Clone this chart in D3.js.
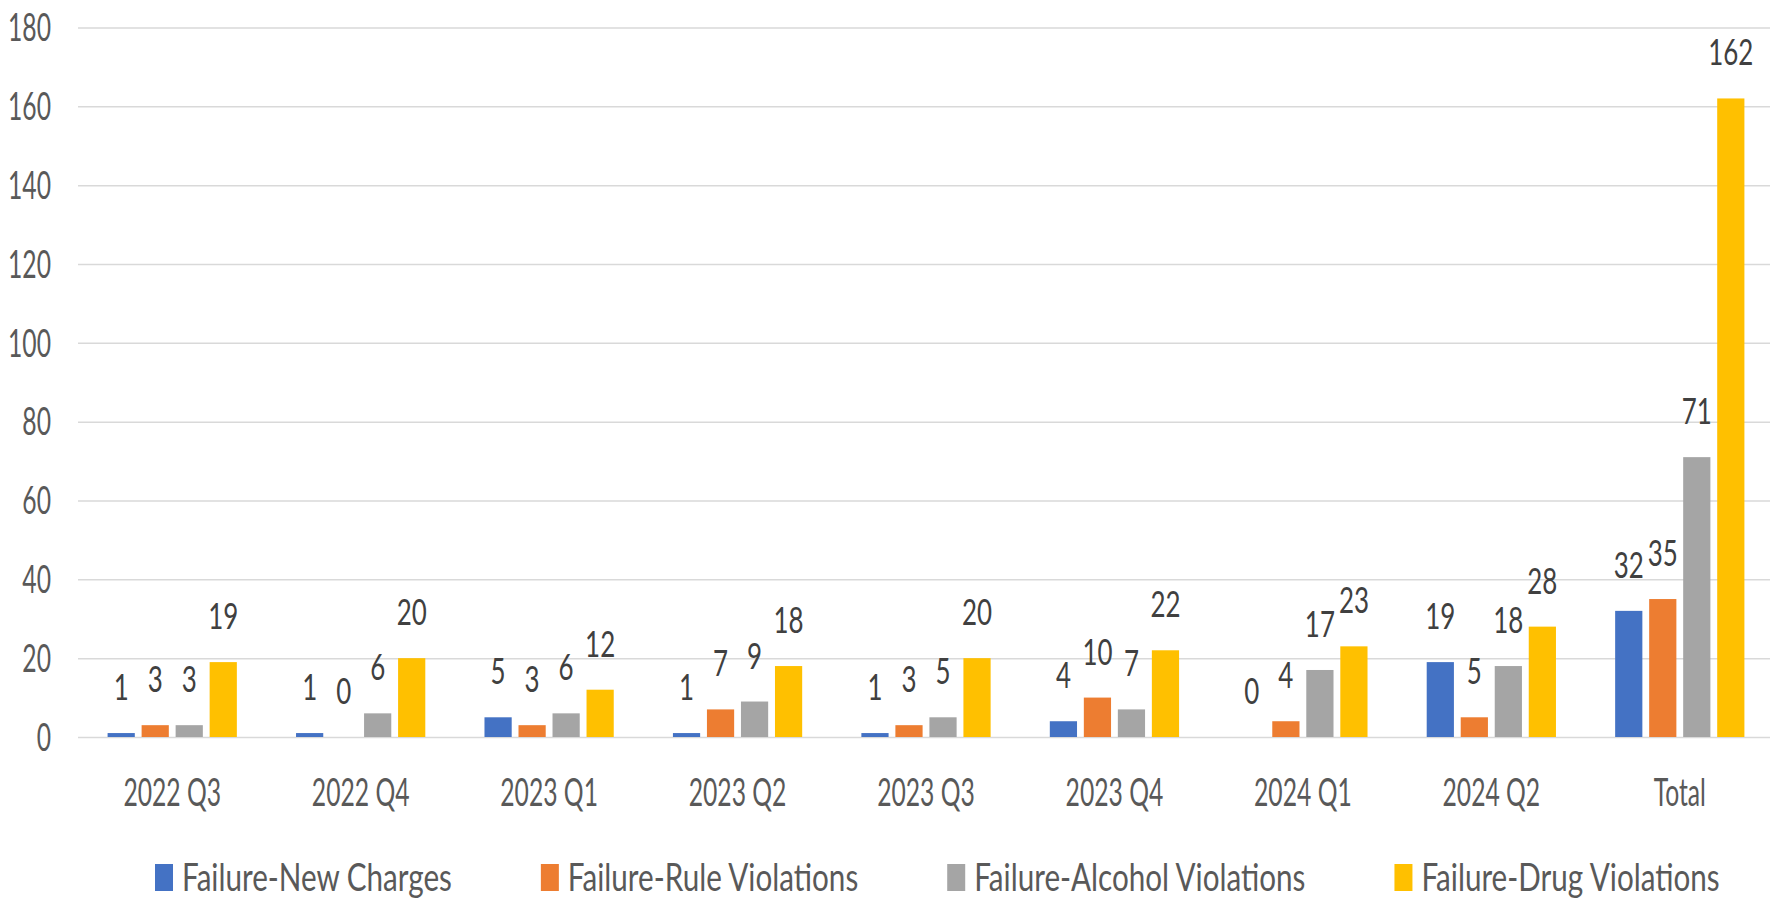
<!DOCTYPE html>
<html>
<head>
<meta charset="utf-8">
<script src="https://cdn.jsdelivr.net/npm/d3@7"></script>
<style>
  body { margin: 0; background: #fff; }
  svg { display: block; }
  text { font-family: Lato, "Open Sans", sans-serif; }
</style>
</head>
<body>
<div id="chart"></div>
<script>
var categories = ['2022 Q3', '2022 Q4', '2023 Q1', '2023 Q2', '2023 Q3', '2023 Q4', '2024 Q1', '2024 Q2', 'Total'];
var seriesNames = ['Failure-New Charges', 'Failure-Rule Violations', 'Failure-Alcohol Violations', 'Failure-Drug Violations'];
var newCharges = [1, 1, 5, 1, 1, 4, 0, 19, 32];
var ruleViolations = [3, 0, 3, 7, 3, 10, 4, 5, 35];
var alcoholViolations = [3, 6, 6, 9, 5, 7, 17, 18, 71];
var drugViolations = [19, 20, 12, 18, 20, 22, 23, 28, 162];
var yTicks = [0, 20, 40, 60, 80, 100, 120, 140, 160, 180];
var colors = ['#4472C4', '#ED7D31', '#A5A5A5', '#FFC000'];

var W = 1770, H = 901;
var plotLeft = 78, plotRight = 1774, plotTop = 27.5, plotBottom = 737;
var sx = 0.65;     // the picture is squeezed sideways
var sxLab = 0.72;  // value labels
var sxLeg = 0.78;  // legend words come out narrower in Lato

var seriesValues = [newCharges, ruleViolations, alcoholViolations, drugViolations];

var svg = d3.select('#chart').append('svg')
  .attr('width', W)
  .attr('height', H);

var x0 = d3.scaleBand().domain(categories).range([plotLeft, plotRight]);
var x1 = d3.scaleBand().domain(seriesNames).range([0, x0.bandwidth()])
  .paddingInner(0.2).paddingOuter(0.87);
var y = d3.scaleLinear().domain([0, 180]).range([plotBottom, plotTop]);

// gridlines + y labels
var yAxis = svg.append('g')
  .attr('transform', 'translate(' + plotLeft + ',0)')
  .call(d3.axisLeft(y).tickValues(yTicks).tickSize(-(W - plotLeft)).tickPadding(27));
yAxis.select('.domain').remove();
yAxis.selectAll('.tick line').attr('stroke', '#D9D9D9').attr('stroke-width', 1.5);
yAxis.selectAll('.tick text')
  .attr('x', 0).attr('dy', '0.35em')
  .attr('transform', 'translate(-27,0) scale(' + sx + ',1)')
  .attr('fill', '#595959')
  .style('font-size', '38px');

// category labels
var xAxis = svg.append('g')
  .attr('transform', 'translate(0,' + plotBottom + ')')
  .call(d3.axisBottom(x0).tickSize(0));
xAxis.select('.domain').remove();
xAxis.selectAll('.tick text')
  .attr('y', 0).attr('dy', 0)
  .attr('transform', 'translate(0,69) scale(' + sx + ',1)')
  .attr('fill', '#595959')
  .style('font-size', '38px');

// bars
var rows = categories.map(function (c, i) {
  return seriesNames.map(function (s, j) {
    return { cat: c, name: s, v: seriesValues[j][i], c: colors[j] };
  });
});

var groups = svg.selectAll('g.group').data(rows)
  .enter().append('g')
  .attr('class', 'group')
  .attr('transform', function (d, i) { return 'translate(' + x0(categories[i]) + ',0)'; });

groups.selectAll('rect').data(function (d) { return d; })
  .enter().append('rect')
  .attr('x', function (d) { return x1(d.name); })
  .attr('y', function (d) { return y(d.v); })
  .attr('width', x1.bandwidth())
  .attr('height', function (d) { return plotBottom - y(d.v); })
  .attr('fill', function (d) { return d.c; });

groups.selectAll('text').data(function (d) { return d; })
  .enter().append('text')
  .attr('text-anchor', 'middle')
  .attr('transform', function (d) {
    return 'translate(' + (x1(d.name) + x1.bandwidth() / 2) + ',' + (y(d.v) - 33) + ') scale(' + sxLab + ',1)';
  })
  .attr('fill', '#404040')
  .style('font-size', '36px')
  .text(function (d) { return d.v; });

// legend
var legend = svg.append('g').attr('transform', 'translate(155,0)');
var lx = 0;
seriesNames.forEach(function (s, j) {
  var item = legend.append('g').attr('transform', 'translate(' + lx + ',0)');
  item.append('rect')
    .attr('x', 0).attr('y', 864)
    .attr('width', 18).attr('height', 27)
    .attr('fill', colors[j]);
  var t = item.append('text')
    .attr('transform', 'translate(27,891) scale(' + sxLeg + ',1)')
    .attr('fill', '#595959')
    .style('font-size', '38px')
    .text(s);
  lx += 27 + t.node().getComputedTextLength() * sxLeg + 89;
});
</script>
</body>
</html>
